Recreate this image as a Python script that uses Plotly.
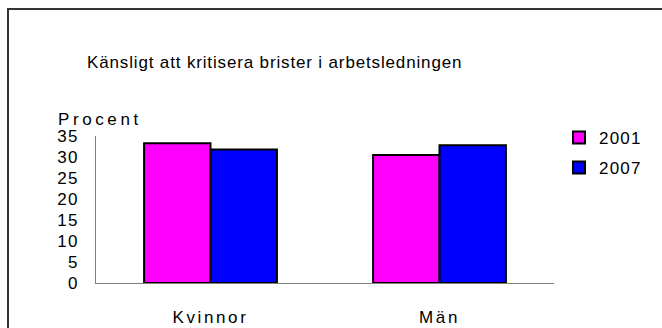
import plotly.graph_objects as go

# Andel som upplever det känsligt att kritisera brister i arbetsledningen
categories = ["Kvinnor", "Män"]
years = ["2001", "2007"]
values_2001 = [33.3, 30.5]
values_2007 = [31.8, 32.8]
y_ticks = [0, 5, 10, 15, 20, 25, 30, 35]

FONT = "Liberation Sans, Arial, sans-serif"
W, H = 662, 328
L, R, T, B = 96, 108, 136, 45
PW, PH = W - L - R, H - T - B


def px_x(x):
    return (x - L) / PW


def px_y(y):
    return (H - B - y) / PH


def spaced(text, px):
    return f'<span style="letter-spacing:{px}px">{text}</span>'


fig = go.Figure()
fig.add_trace(go.Bar(
    x=categories, y=values_2001, name=spaced(years[0], 1.2),
    marker=dict(color="#FF00FF", line=dict(color="black", width=2)),
    legend="legend",
))
fig.add_trace(go.Bar(
    x=categories, y=values_2007, name=spaced(years[1], 1.2),
    marker=dict(color="#0000FF", line=dict(color="black", width=2)),
    legend="legend2",
))

legend_common = dict(
    font=dict(family=FONT, size=17, color="black"),
    bgcolor="rgba(0,0,0,0)", borderwidth=0,
    xanchor="left", yanchor="middle", itemclick=False,
)

fig.update_layout(
    width=W, height=H,
    margin=dict(l=L, r=R, t=T, b=B, autoexpand=False),
    paper_bgcolor="white", plot_bgcolor="white",
    barmode="group", bargap=0.42, bargroupgap=0,
    font=dict(family=FONT, size=17, color="black"),
    showlegend=True,
    legend=dict(x=px_x(559), y=px_y(138), **legend_common),
    legend2=dict(x=px_x(559), y=px_y(168), **legend_common),
    xaxis=dict(
        showline=True, linecolor="#808080", linewidth=1,
        ticks="", ticklabelstandoff=19, automargin=False,
        tickvals=categories,
        ticktext=[spaced(c, 2.6) for c in categories],
        tickfont=dict(family=FONT, size=17),
        showgrid=False, zeroline=False,
    ),
    yaxis=dict(
        range=[0, 35], tickvals=y_ticks,
        ticktext=[spaced(str(v), 1.2) for v in y_ticks],
        showline=True, linecolor="#808080", linewidth=1,
        ticks="", ticklabelstandoff=13, automargin=False,
        tickfont=dict(family=FONT, size=17),
        showgrid=False, zeroline=False,
    ),
    annotations=[
        dict(text=spaced("Känsligt att kritisera brister i arbetsledningen", 0.85),
             xref="paper", yref="paper", x=px_x(274), y=px_y(63),
             xanchor="center", yanchor="middle", showarrow=False,
             font=dict(family=FONT, size=17)),
        dict(text=spaced("Procent", 3.6), xref="paper", yref="paper",
             x=px_x(56), y=px_y(119), xanchor="left", yanchor="middle",
             showarrow=False, font=dict(family=FONT, size=17)),
    ],
    shapes=[
        dict(type="rect", xref="paper", yref="paper",
             x0=px_x(8), y0=px_y(9), x1=px_x(700), y1=px_y(360),
             line=dict(color="#333333", width=2), layer="below"),
    ],
)

fig.write_html("out.html")
